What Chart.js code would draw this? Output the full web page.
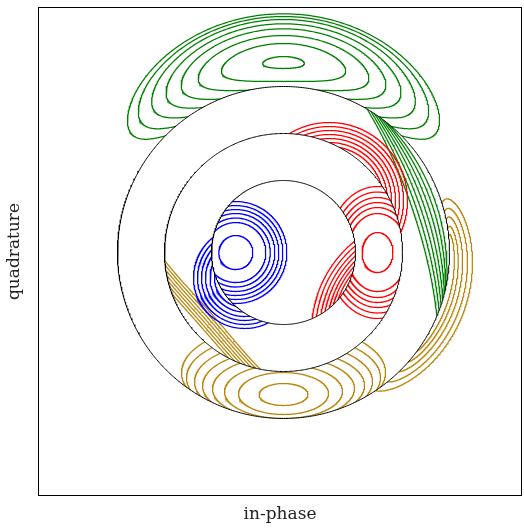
<!DOCTYPE html>
<html>
<head>
<meta charset="utf-8">
<script src="https://cdn.jsdelivr.net/npm/chart.js@4.4.0/dist/chart.umd.min.js"></script>
<style>
  html, body { margin: 0; padding: 0; background: #fff; }
</style>
</head>
<body>
<canvas id="chart" width="524" height="528"></canvas>
<script>
// ====== DATA (origin = centre of the rings, y up) ======
const ringRadii = [72, 119, 166];

// blue family: disk and first annulus
const blueCenterIn = [-47.7, 0];
const blueCenterOut = [-39, -25];
const blueRadii = [17, 30, 34.5, 39, 43, 47, 51];

// red family: first annulus, disk, second annulus
const redCenter = [94, 0];
const redRx = [15.5, 30, 34.5, 38.5, 42, 46, 50.5];
const redRy = [20, 39, 45, 50, 55, 60.5, 66];
const redDiskCenter = [144, -79];
const redDiskRadii = [116, 112, 108, 104.5, 101, 98, 95];
const redOuterCenter = [46, 52];
const redOuterRadii = [78, 74, 70, 66, 62, 58, 54];

// gold family: second annulus, first annulus, outside
const goldRx = [24.5, 45, 59, 71, 81, 89, 97, 102];
const goldRy = [11, 21, 27, 32, 36, 40, 44, 48];
const goldCy = [-142, -141, -139, -136, -133, -129, -125, -120];
const goldLineAngle = 221.3;
const goldLineDepth = [24.5, 21.7, 19, 16.2, 13.5, 10.7, 8];
const goldLineSpread = [37.4, 35.2, 32.8, 30.2, 27.5, 24.5, 21.1];
const goldSideAngle = [-19.4, -18.4, -17.15, -16.35, -15.35];
const goldSideHeight = [24, 19, 14, 9.6, 5.6];
const goldSideSpread = [36.9, 32.8, 28.75, 24.85, 21.15];
const goldSideSkew = 11.3;

// green family: outside, second annulus
const greenTopDepth = [6, 19, 27, 33.7, 38.7, 43, 46, 48.7];
const greenTopSpread = [6.3, 19, 26.4, 32, 37.2, 42.4, 47.6, 52.1];
const greenLineAngle = [18.65, 18.96, 19.27, 19.58, 19.89, 20.19, 20.5];
const greenLineDepth = [30, 26, 22, 18, 14, 10, 6];
const greenLineSpread = [41.05, 39.29, 37.54, 35.78, 34.02, 32.26, 30.5];

const BLUE = "#0000ff", RED = "#ff0000", GOLD = "#b8860b", GREEN = "#008000";
const N = 600;

// ====== CONTOUR LOOPS ======
function ellipse(cx, cy, rx, ry) {
  const pts = [];
  for (let i = 0; i <= N; i++) {
    const t = (2 * Math.PI * i) / N;
    pts.push({ x: cx + rx * Math.cos(t), y: cy + ry * Math.sin(t) });
  }
  return pts;
}

// loop around radius rc, angle in degrees; depth is radial, spread angular
function polarLoop(rc, angle, depth, spread, skew = 0) {
  const pts = [];
  const c = (angle * Math.PI) / 180;
  const s = (skew * Math.PI) / 180;
  const b = (spread * Math.PI) / 180 / Math.cos(s);
  for (let i = 0; i <= N; i++) {
    const t = (2 * Math.PI * i) / N;
    const r = rc + depth * Math.cos(t - s);
    const th = c + b * Math.sin(t);
    pts.push({ x: r * Math.cos(th), y: r * Math.sin(th) });
  }
  return pts;
}

// contour that dips below a ring boundary like a chord: deepest point at
// (boundary - depth, angle), back on the boundary at angle +/- spread
function chordLoop(boundary, angle, depth, spread) {
  const b = 1.3;
  const sinU = (spread * Math.PI) / 180 / b;
  const a = depth / (1 - Math.sqrt(1 - sinU * sinU));
  return polarLoop(boundary - depth + a, angle, a, (b * 180) / Math.PI);
}

function contour(points, color, ring) {
  return {
    data: points,
    showLine: true,
    borderColor: color,
    borderWidth: 1.25,
    pointRadius: 0,
    ring,
  };
}

const datasets = [];

// black ring borders first so they are painted on top
ringRadii.forEach((r) => {
  datasets.push({ ...contour(ellipse(0, 0, r, r), "#000", null), borderWidth: 1 });
});

blueRadii.forEach((r) => {
  datasets.push(contour(ellipse(blueCenterIn[0], blueCenterIn[1], r, r), BLUE, [0, 72]));
  datasets.push(contour(ellipse(blueCenterOut[0], blueCenterOut[1], r, r), BLUE, [72, 119]));
});

redRx.forEach((rx, i) => {
  datasets.push(contour(ellipse(redCenter[0], redCenter[1], rx, redRy[i]), RED, [72, 119]));
});
redDiskRadii.forEach((r) => {
  datasets.push(contour(ellipse(redDiskCenter[0], redDiskCenter[1], r, r), RED, [0, 72]));
});
redOuterRadii.forEach((r) => {
  datasets.push(contour(ellipse(redOuterCenter[0], redOuterCenter[1], r, r), RED, [119, 166]));
});

goldRx.forEach((rx, i) => {
  datasets.push(contour(ellipse(0, goldCy[i], rx, goldRy[i]), GOLD, [119, 166]));
});
goldLineDepth.forEach((d, i) => {
  datasets.push(contour(chordLoop(119, goldLineAngle, d, goldLineSpread[i]), GOLD, [72, 119]));
});
goldSideHeight.forEach((h, i) => {
  datasets.push(
    contour(polarLoop(166, goldSideAngle[i], h, goldSideSpread[i], goldSideSkew), GOLD, [166, Infinity])
  );
});

greenTopDepth.forEach((d, i) => {
  datasets.push(contour(polarLoop(190, 90, d, greenTopSpread[i]), GREEN, [166, Infinity]));
});
greenLineDepth.forEach((d, i) => {
  datasets.push(contour(chordLoop(166, greenLineAngle[i], d, greenLineSpread[i]), GREEN, [119, 166]));
});

// ====== CLIP EACH FAMILY TO ITS RING ======
const ringClip = {
  id: "ringClip",
  beforeDatasetDraw(chart, args) {
    const ds = chart.data.datasets[args.index];
    if (!ds.ring) return;
    const { ctx, chartArea: a, scales } = chart;
    const cx = scales.x.getPixelForValue(0);
    const cy = scales.y.getPixelForValue(0);
    const k = scales.x.getPixelForValue(1) - cx;
    const [rIn, rOut] = ds.ring;
    ctx.save();
    ctx.beginPath();
    if (rOut === Infinity) ctx.rect(a.left, a.top, a.width, a.height);
    else ctx.arc(cx, cy, rOut * k, 0, 2 * Math.PI);
    if (rIn > 0) {
      ctx.moveTo(cx + rIn * k, cy);
      ctx.arc(cx, cy, rIn * k, 0, 2 * Math.PI, true);
    }
    ctx.clip("evenodd");
  },
  afterDatasetDraw(chart, args) {
    if (chart.data.datasets[args.index].ring) chart.ctx.restore();
  },
};

const frame = {
  id: "frame",
  afterDraw(chart) {
    const { ctx, chartArea: a } = chart;
    ctx.save();
    ctx.strokeStyle = "#000";
    ctx.lineWidth = 1;
    ctx.strokeRect(Math.round(a.left) + 0.5, Math.round(a.top) + 0.5, Math.round(a.width) - 1, Math.round(a.height) - 1);
    ctx.restore();
  },
};

const titleFont = { family: "DejaVu Serif", size: 17 };

new Chart(document.getElementById("chart"), {
  type: "scatter",
  data: { datasets },
  plugins: [ringClip, frame],
  options: {
    responsive: false,
    animation: false,
    layout: { padding: { top: 7, right: 2, left: 0, bottom: 0 } },
    plugins: { legend: { display: false }, tooltip: { enabled: false } },
    scales: {
      x: {
        type: "linear",
        min: -245.5,
        max: 238.5,
        ticks: { display: false },
        grid: { display: false },
        border: { display: false },
        title: { display: true, text: "in-phase", color: "#222", font: titleFont, padding: { bottom: 3 } },
        afterFit: (scale) => { scale.height = 32; },
      },
      y: {
        type: "linear",
        min: -243.5,
        max: 245.5,
        ticks: { display: false },
        grid: { display: false },
        border: { display: false },
        title: { display: true, text: "quadrature", color: "#222", font: titleFont, padding: { top: 4 } },
        afterFit: (scale) => { scale.width = 38; },
      },
    },
  },
});
</script>
</body>
</html>
